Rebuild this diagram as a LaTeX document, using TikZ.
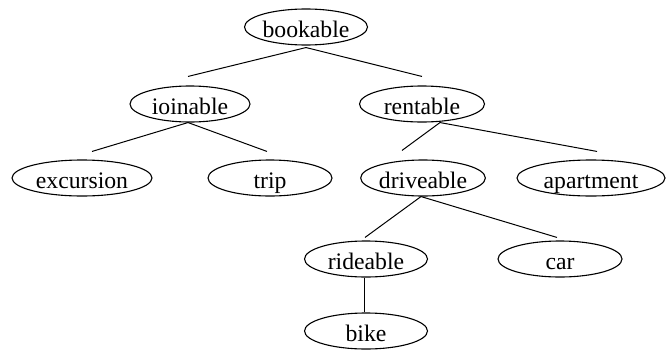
\documentclass[tikz,border=0pt]{standalone}
\usepackage{fontspec}
\setmainfont{Liberation Serif}
\usetikzlibrary{shapes.geometric}
\tikzset{
  cls/.style={ellipse, draw, line width=1.1pt, inner sep=0pt,
    minimum width=123pt, minimum height=36pt,
    text height=17pt, text depth=0pt,
    font=\fontsize{23.7}{28}\selectfont},
  edge/.style={line width=1pt}
}
\newcommand{\lbl}[1]{\raisebox{-1.5pt}{#1}}
\begin{document}
\begin{tikzpicture}[x=1pt,y=-1pt]
\useasboundingbox (0,0) rectangle (666,351);
\node[cls] (bookable) at (306,27) {\lbl{bookable}};
\node[cls, minimum width=120pt] (ioinable) at (190,104) {\lbl{ioinable}};
\node[cls, minimum width=125pt] (rentable) at (422,104) {\lbl{rentable}};
\node[cls, minimum width=140pt] (excursion) at (82,178) {\lbl{excursion}};
\node[cls, minimum width=124pt] (trip) at (270,178) {\lbl{trip}};
\node[cls] (driveable) at (423,178) {\lbl{driveable}};
\node[cls, minimum width=148pt] (apartment) at (591,178) {\lbl{apartment}};
\node[cls] (rideable) at (366,259) {\lbl{rideable}};
\node[cls, minimum width=124pt] (car) at (560,259) {\lbl{car}};
\node[cls] (bike) at (366,331) {\lbl{bike}};

\draw[edge] ([shift={(0,2)}]bookable.south) -- ([shift={(-2,-9)}]ioinable.north);
\draw[edge] ([shift={(0,2)}]bookable.south) -- ([shift={(0,-9)}]rentable.north);
\draw[edge] ([shift={(-2,0)}]ioinable.south) -- ([shift={(10,-8)}]excursion.north);
\draw[edge] ([shift={(-2,0)}]ioinable.south) -- ([shift={(-3,-8)}]trip.north);
\draw[edge] ([shift={(18,0)}]rentable.south) -- ([shift={(-21,-9)}]driveable.north);
\draw[edge] ([shift={(18,0)}]rentable.south) -- ([shift={(6,-8)}]apartment.north);
\draw[edge] ([shift={(-2,0)}]driveable.south) -- ([shift={(-1,-3)}]rideable.north);
\draw[edge] ([shift={(-2,0)}]driveable.south) -- ([shift={(-3,-3)}]car.north);
\draw[edge] ([shift={(-2,0)}]rideable.south) -- ([shift={(-2,0)}]bike.north);
\end{tikzpicture}
\end{document}
